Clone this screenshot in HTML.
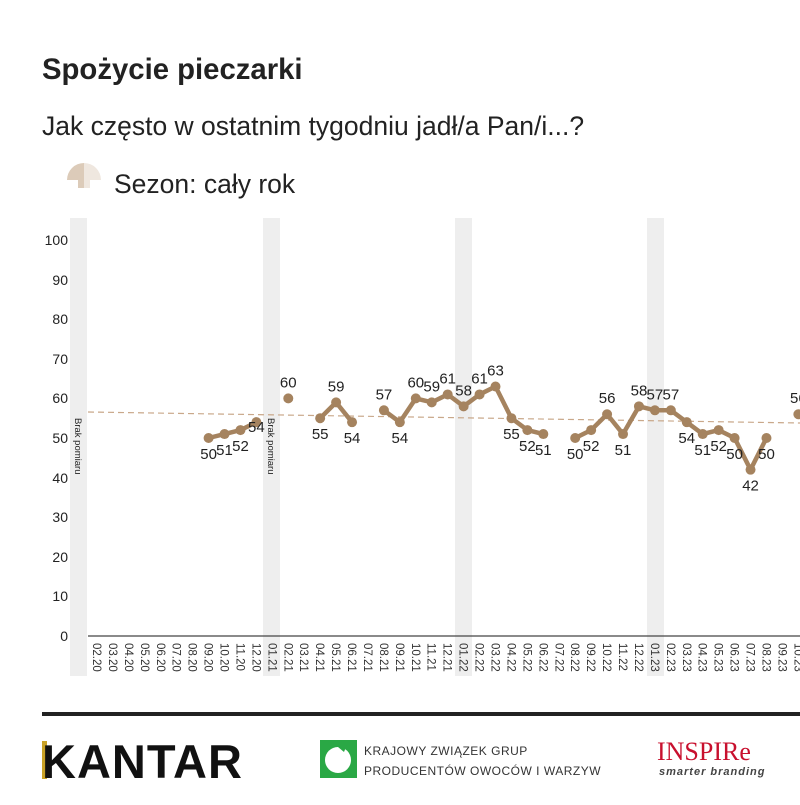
<!DOCTYPE html>
<html><head><meta charset="utf-8"><style>
body{margin:0;background:#fff;width:800px;height:800px;overflow:hidden;font-family:"Liberation Sans",sans-serif;}
</style></head><body>
<svg width="800" height="800" xmlns="http://www.w3.org/2000/svg" font-family="Liberation Sans, sans-serif">
<text x="42" y="79" font-size="29.3" font-weight="bold" fill="#222">Spożycie pieczarki</text>
<text x="42" y="135" font-size="26.5" fill="#222">Jak często w ostatnim tygodniu jadł/a Pan/i...?</text>
<path d="M67,180 A17,17 0 0 1 84,163 L84,188 L78,188 L78,180 Z" fill="#dccbb9"/>
<path d="M84,163 A17,17 0 0 1 101,180 L90,180 L90,188 L84,188 Z" fill="#efe7df"/>
<text x="114" y="193" font-size="26.5" fill="#222">Sezon: cały rok</text>
<g fill="#eeeeee">
<rect x="70" y="218" width="17" height="458"/>
<rect x="263" y="218" width="17" height="458"/>
<rect x="455" y="218" width="17" height="458"/>
<rect x="647" y="218" width="17" height="458"/>
</g>
<g font-size="9.5" fill="#222">
<text transform="translate(75,418) rotate(90)">Brak pomiaru</text>
<text transform="translate(268,418) rotate(90)">Brak pomiaru</text>
</g>
<g font-size="14" fill="#222" text-anchor="end">
<text x="68" y="245">100</text><text x="68" y="285">90</text><text x="68" y="324">80</text><text x="68" y="364">70</text><text x="68" y="403">60</text><text x="68" y="443">50</text><text x="68" y="483">40</text><text x="68" y="522">30</text><text x="68" y="562">20</text><text x="68" y="601">10</text><text x="68" y="641">0</text>
</g>
<line x1="88" y1="636" x2="800" y2="636" stroke="#444" stroke-width="1.3"/>
<line x1="88" y1="412" x2="800" y2="423" stroke="#c9a88a" stroke-width="1.2" stroke-dasharray="6,4"/>
<g id="xl" font-size="11.5" fill="#333"></g>
<g id="d"></g>
<rect x="42" y="712" width="758" height="4" fill="#222"/>
<rect x="42" y="741" width="5" height="38" fill="#c9a227"/>
<text x="42" y="778" font-size="47" font-weight="bold" fill="#111" letter-spacing="1">KANTAR</text>
<rect x="320" y="740" width="37" height="38" fill="#2aa845"/>
<circle cx="338" cy="760" r="13" fill="#fff"/>
<path d="M332,742 L348,742 L344,752 Z" fill="#2aa845"/>
<text x="364" y="755" font-size="12" fill="#333" letter-spacing="0.5">KRAJOWY ZWIĄZEK GRUP</text>
<text x="364" y="775" font-size="12" fill="#333" letter-spacing="0.5">PRODUCENTÓW OWOCÓW I WARZYW</text>
<text x="657" y="760" font-size="26" fill="#c8102e" font-family="Liberation Serif, serif">INSPIRe</text>
<text x="659" y="775" font-size="11" fill="#444" font-style="italic" font-weight="bold" letter-spacing="1">smarter branding</text>
</svg>
<script>
function X(i){return 97+15.94*i;}function Y(v){return 636-3.96*v;}
var xl=document.getElementById("xl"),h="";
for(var i=0;i<45;i++){var m=(i+1)%12+1,yr=20+Math.floor((i+1)/12);var s=(m<10?"0":"")+m+"."+yr;
h+='<text transform="translate('+(X(i)-4)+',643) rotate(90)">'+s+'</text>';}
xl.innerHTML=h;
var data={7:50,8:51,9:52,10:54,12:60,14:55,15:59,16:54,18:57,19:54,20:60,21:59,22:61,23:58,24:61,25:63,26:55,27:52,28:51,30:50,31:52,32:56,33:51,34:58,35:57,36:57,37:54,38:51,39:52,40:50,41:42,42:50,44:56};
var below={7:1,8:1,9:1,14:1,16:1,19:1,26:1,27:1,28:1,30:1,31:1,33:1,37:1,38:1,39:1,40:1,41:1,42:1};
var d="",seg=[],g="";
for(var i=0;i<46;i++){if(data[i]!==undefined){seg.push(X(i)+","+Y(data[i]));}else{if(seg.length>1)d+='<polyline points="'+seg.join(" ")+'" fill="none" stroke="#a5835f" stroke-width="4.5" stroke-linejoin="round"/>';seg=[];}}
for(var k in data){var i=+k,v=data[k];g+='<circle cx="'+X(i)+'" cy="'+Y(v)+'" r="5" fill="#a5835f"/>';
var ty=below[i]?Y(v)+21:Y(v)-11;if(i==10)ty=Y(v)+10;g+='<text x="'+X(i)+'" y="'+ty+'" font-size="15" fill="#222" text-anchor="middle">'+v+'</text>';}
document.getElementById("d").innerHTML=d+g;
</script>
</body></html>
